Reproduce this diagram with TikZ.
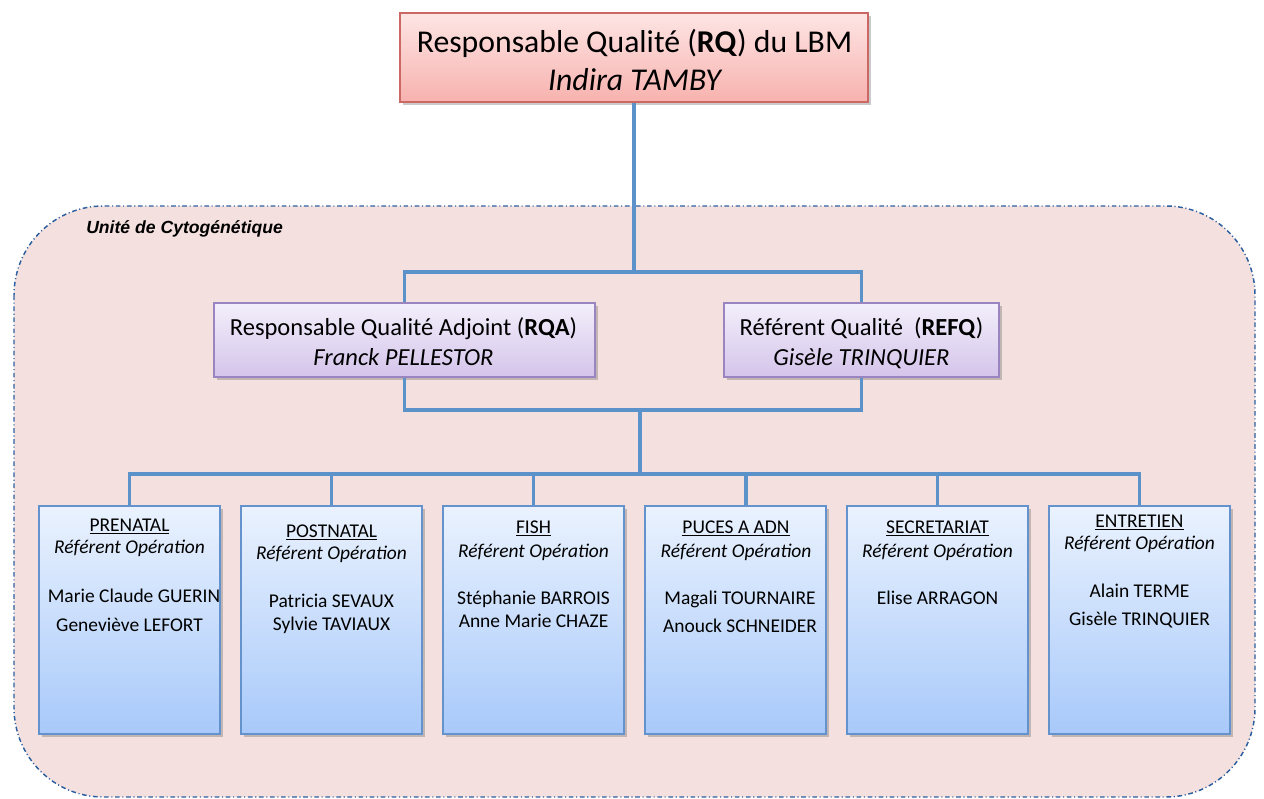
\documentclass[tikz,border=0pt]{standalone}
\usepackage{fontspec}
\setmainfont{Carlito}
\newfontfamily\arialfont{Liberation Sans}
\usetikzlibrary{shadows}

% palette
\definecolor{connc}{RGB}{91,146,201}
\definecolor{unitfill}{RGB}{244,225,223}
\definecolor{unitborder}{RGB}{44,95,160}
\definecolor{rqtop}{RGB}{253,229,228}
\definecolor{rqbot}{RGB}{247,178,174}
\definecolor{rqborder}{RGB}{204,104,100}
\definecolor{midtop}{RGB}{243,239,251}
\definecolor{midbot}{RGB}{212,196,234}
\definecolor{midborder}{RGB}{155,133,192}
\definecolor{optop}{RGB}{234,242,254}
\definecolor{opbot}{RGB}{168,201,250}
\definecolor{opborder}{RGB}{99,146,204}

\newcommand{\topsize}{\fontsize{23.8}{28.5}\selectfont}
\newcommand{\midsize}{\fontsize{18.4}{22}\selectfont}
\newcommand{\opsize}{\fontsize{14.6}{17.5}\selectfont}

\tikzset{
  conn/.style={draw=connc, line width=2.7pt},
  boxshadow/.style={drop shadow={shadow xshift=2.2pt, shadow yshift=-2.2pt, opacity=0.35, fill=black!60}},
  rqbox/.style={draw=rqborder, line width=1.2pt, top color=rqtop, bottom color=rqbot,
    minimum width=351pt, minimum height=66.75pt, inner sep=0pt, boxshadow},
  midbox/.style={draw=midborder, line width=1.2pt, top color=midtop, bottom color=midbot,
    minimum height=55.5pt, inner sep=0pt, boxshadow},
  opbox/.style={draw=opborder, line width=1.2pt, top color=optop, bottom color=opbot,
    minimum width=135.75pt, minimum height=171pt, inner sep=0pt, boxshadow},
  txt/.style={anchor=base, inner sep=0pt, text=black},
  optitle/.style={txt, font=\opsize},
  oprole/.style={txt, font=\opsize\itshape},
  opname/.style={txt, font=\opsize},
}

\begin{document}
\begin{tikzpicture}[x=0.75pt, y=0.75pt]
\useasboundingbox (0,0) rectangle (1264,-799);

% unit area
\draw[fill=unitfill, draw=unitborder, line width=1.1pt,
      dash pattern=on 3.5pt off 2pt on 0.8pt off 2pt, rounded corners=67pt]
  (14,-206) rectangle (1255,-797);
\node[anchor=base west, inner sep=0pt, font=\arialfont\bfseries\itshape\fontsize{13.2}{16}\selectfont]
  (unitlabel) at (86,-233) {Unité de Cytogénétique};

% junction points
\coordinate (hub1) at (634,-272);
\coordinate (hub2) at (640,-410);
\coordinate (hub3) at (640,-474);

% boxes
\node[rqbox] (rq) at (634,-57.5) {};
\node[midbox, minimum width=285.75pt] (rqa) at (404.5,-340) {};
\node[midbox, minimum width=206.25pt] (refq) at (861.5,-340) {};
\foreach \i/\x in {1/129.5, 2/331.5, 3/533.5, 4/735.5, 5/937.5, 6/1139.5}
  \node[opbox] (p\i) at (\x,-620) {};

% connectors
\draw[conn] (rq.south) -- (rq.south |- hub1);
\draw[conn] (rqa.north) |- (hub1) -| (refq.north);
\draw[conn] (rqa.south) |- (hub2) -| (refq.south);
\draw[conn] (hub2) -- (hub3);
\draw[conn] (p1.north) |- (hub3) -| (p6.north);
\coordinate (p4top) at ([xshift=7.9pt]p4.north);
\foreach \n in {p2.north, p3.north, p4top, p5.north}
  \draw[conn] (\n) -- (\n |- hub3);

% top level
\node[txt, font=\topsize] (rqt1) at (634.5,-53) {Responsable Qualité (\textbf{RQ}) du LBM};
\node[txt, font=\topsize\itshape] (rqt2) at (634.5,-91) {Indira TAMBY};

% second level
\node[txt, font=\midsize] (rqat1) at (403.5,-335) {Responsable Qualité Adjoint (\textbf{RQA})};
\node[txt, font=\midsize\itshape] (rqat2) at (403.5,-365) {Franck PELLESTOR};
\node[txt, font=\midsize] (refqt1) at (861.5,-335) {Référent Qualité\ \ (\textbf{REFQ})};
\node[txt, font=\midsize\itshape] (refqt2) at (861.5,-365) {Gisèle TRINQUIER};

% operational units
\node[optitle] (p1a) at (129.5,-531) {\underline{PRENATAL}};
\node[oprole]  (p1b) at (129.5,-553) {Référent Opération};
\node[opname]  (p1c) at (134,-602) {Marie Claude GUERIN};
\node[opname]  (p1d) at (129.5,-631) {Geneviève LEFORT};

\node[optitle] (p2a) at (331.5,-537) {\underline{POSTNATAL}};
\node[oprole]  (p2b) at (331.5,-559) {Référent Opération};
\node[opname]  (p2c) at (331.5,-607) {Patricia SEVAUX};
\node[opname]  (p2d) at (331.5,-630) {Sylvie TAVIAUX};

\node[optitle] (p3a) at (533.5,-533) {\underline{FISH}};
\node[oprole]  (p3b) at (533.5,-557) {Référent Opération};
\node[opname]  (p3c) at (533.5,-604) {Stéphanie BARROIS};
\node[opname]  (p3d) at (533.5,-627) {Anne Marie CHAZE};

\node[optitle] (p4a) at (736,-533) {\underline{PUCES A ADN}};
\node[oprole]  (p4b) at (736,-557) {Référent Opération};
\node[opname]  (p4c) at (740,-604) {Magali TOURNAIRE};
\node[opname]  (p4d) at (740,-632) {Anouck SCHNEIDER};

\node[optitle] (p5a) at (937.5,-533) {\underline{SECRETARIAT}};
\node[oprole]  (p5b) at (937.5,-557) {Référent Opération};
\node[opname]  (p5c) at (937.5,-604) {Elise ARRAGON};

\node[optitle] (p6a) at (1139.5,-527) {\underline{ENTRETIEN}};
\node[oprole]  (p6b) at (1139.5,-549) {Référent Opération};
\node[opname]  (p6c) at (1139.5,-597) {Alain TERME};
\node[opname]  (p6d) at (1139.5,-625) {Gisèle TRINQUIER};
\end{tikzpicture}
\end{document}
